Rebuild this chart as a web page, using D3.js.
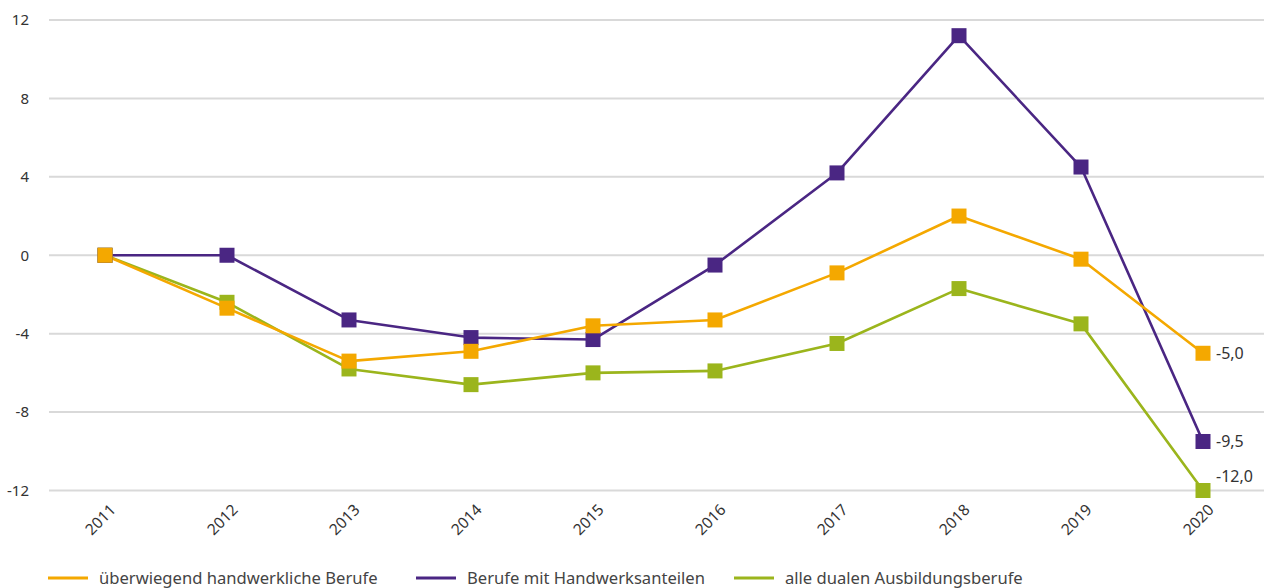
<!DOCTYPE html>
<html>
<head>
<meta charset="utf-8">
<script src="https://cdn.jsdelivr.net/npm/d3@7"></script>
<style>
  html, body { margin: 0; padding: 0; background: #fff; }
  svg { display: block; font-family: "Noto Sans", "Open Sans", sans-serif; }
</style>
</head>
<body>
<svg id="chart" width="1269" height="588"></svg>
<script>
const years = ["2011","2012","2013","2014","2015","2016","2017","2018","2019","2020"];
const yTicks = [12, 8, 4, 0, -4, -8, -12];
const seriesNames = ["überwiegend handwerkliche Berufe", "Berufe mit Handwerksanteilen", "alle dualen Ausbildungsberufe"];
const seriesColors = ["#F4A800", "#4A2683", "#9BB51C"];
const handwerklich = [0, -2.7, -5.4, -4.9, -3.6, -3.3, -0.9, 2.0, -0.2, -5.0];
const handwerksanteile = [0, 0, -3.3, -4.2, -4.3, -0.5, 4.2, 11.2, 4.5, -9.5];
const alleDualen = [0, -2.4, -5.8, -6.6, -6.0, -5.9, -4.5, -1.7, -3.5, -12.0];
const endLabels = ["-5,0", "-9,5", "-12,0"];

const seriesValues = [handwerklich, handwerksanteile, alleDualen];
const svg = d3.select("#chart");

const x = d3.scaleBand().domain(years).range([44, 1264]);
const y = d3.scaleLinear().domain([-12, 12]).range([490.5, 20]);
const gridLeft = 49, gridRight = 1264;

// gridlines
svg.append("g").selectAll("line").data(yTicks).join("line")
  .attr("x1", gridLeft).attr("x2", gridRight)
  .attr("y1", d => y(d)).attr("y2", d => y(d))
  .attr("stroke", "#d9d9d9").attr("stroke-width", 2);

// y axis labels
const yAxis = d3.axisLeft(y).tickValues(yTicks).tickSize(0).tickPadding(0).tickFormat(d => String(d));
const ya = svg.append("g").attr("transform", "translate(29,0)").call(yAxis);
ya.select(".domain").remove();
ya.selectAll("text").attr("font-size", 15).attr("fill", "#333").attr("font-family", "\"Noto Sans\", sans-serif");

// x axis labels
const xAxis = d3.axisBottom(x).tickSize(0).tickPadding(0);
const xa = svg.append("g").call(xAxis);
xa.select(".domain").remove();
xa.selectAll(".tick").attr("transform", d => `translate(${x(d) + x.bandwidth()/2 + 8},507)`);
xa.selectAll("text")
  .attr("y", 0).attr("dy", "0.35em")
  .attr("text-anchor", "end")
  .attr("transform", "rotate(-45)")
  .attr("font-size", 15.5).attr("fill", "#333").attr("font-family", "\"Noto Sans\", sans-serif");

const cx = d => x(d) + x.bandwidth() / 2;
const line = d3.line().x((d, i) => cx(years[i])).y(d => y(d));

const order = [2, 1, 0];
order.forEach(si => {
  svg.append("path").datum(seriesValues[si])
    .attr("d", line).attr("fill", "none")
    .attr("stroke", seriesColors[si]).attr("stroke-width", 2.6)
    .attr("stroke-linejoin", "round");
});
order.forEach(si => {
  const s = 15;
  svg.append("g").selectAll("rect").data(seriesValues[si]).join("rect")
    .attr("x", (d, i) => cx(years[i]) - s/2)
    .attr("y", d => y(d) - s/2)
    .attr("width", s).attr("height", s)
    .attr("fill", seriesColors[si]);
});

// end labels
const lastYear = years[years.length - 1];
const labelDy = [0, 0, -14];
seriesValues.forEach((vals, si) => {
  svg.append("text")
    .attr("x", cx(lastYear) + 13)
    .attr("y", y(vals[vals.length - 1]) + labelDy[si])
    .attr("dy", "0.35em")
    .attr("font-size", 16).attr("fill", "#333")
    .text(endLabels[si]);
});

// legend
const legendX = [48, 416, 734];
const legendY = 578;
seriesNames.forEach((name, si) => {
  svg.append("line")
    .attr("x1", legendX[si]).attr("x2", legendX[si] + 40)
    .attr("y1", legendY).attr("y2", legendY)
    .attr("stroke", seriesColors[si]).attr("stroke-width", 3);
  svg.append("text")
    .attr("x", legendX[si] + 51).attr("y", legendY)
    .attr("dy", "0.35em")
    .attr("font-size", 16.6).attr("fill", "#444")
    .text(name);
});
</script>
</body>
</html>
